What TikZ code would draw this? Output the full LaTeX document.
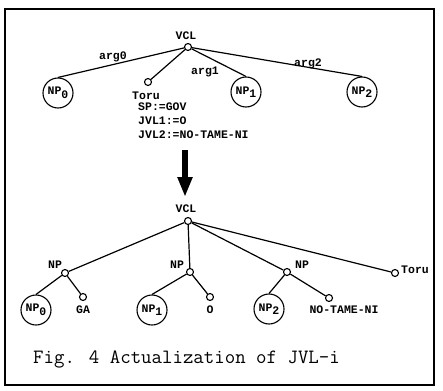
\documentclass[tikz,border=0pt]{standalone}
\usepackage{fontspec}
\newfontfamily\lblfont{Liberation Mono}
\usetikzlibrary{arrows.meta}
\tikzset{
  lbl/.style={font=\lblfont\bfseries\fontsize{11.5}{13}\selectfont, inner sep=0pt},
  sm/.style={circle, draw, line width=1.1pt, minimum size=7pt, inner sep=0pt},
  big/.style={circle, draw, line width=1.1pt, minimum size=30pt, inner sep=0pt, font=\lblfont\bfseries\fontsize{11.5}{13}\selectfont},
  edge/.style={line width=1.2pt},
}
\newcommand{\npsub}[1]{NP\raisebox{-3.5pt}{#1}}
\begin{document}
\begin{tikzpicture}[x=1pt,y=-1pt]
\useasboundingbox (0,0) rectangle (443,390);
\draw[line width=1.5pt] (5,9) rectangle (434,385);
% top tree
\node[sm] (vcl1) at (188,47) {};
\node[lbl] (vcl1l) at (186,36) {VCL};
\node[big] (np0a) at (58,93) {\npsub{0}};
\node[sm] (toru1) at (148,82) {};
\node[lbl] (toru1l) at (146,96) {Toru};
\node[big] (np1a) at (246,92) {\npsub{1}};
\node[big] (np2a) at (362,92) {\npsub{2}};
\draw[edge] (vcl1) -- (np0a.north);
\draw[edge] (vcl1) -- (toru1);
\draw[edge] (vcl1) -- (np1a.north);
\draw[edge] (vcl1) -- (np2a.north);
\node[lbl] (a0) at (113,57) {arg0};
\node[lbl] (a1) at (205,72) {arg1};
\node[lbl] (a2) at (308,64) {arg2};
\node[lbl, anchor=west] (sp) at (138,107) {SP:=GOV};
\node[lbl, anchor=west] (j1) at (138,121) {JVL1:=O};
\node[lbl, anchor=west] (j2) at (138,135) {JVL2:=NO-TAME-NI};
% arrow
\coordinate (as) at (185,150);
\coordinate (ae) at (185,197);
\draw[line width=6pt, -{Triangle[width=14pt,length=20pt]}] (as) -- (ae);
% bottom tree
\node[sm] (vcl2) at (188,221) {};
\node[lbl] (vcl2l) at (186,209) {VCL};
\node[sm] (npL) at (65,273) {};
\node[lbl] (npLl) at (55,265) {NP};
\node[sm] (npM) at (190,272) {};
\node[lbl] (npMl) at (177,265) {NP};
\node[sm] (npR) at (287,272) {};
\node[lbl] (npRl) at (302,265) {NP};
\node[sm] (toru2) at (395,273) {};
\node[lbl, anchor=west] (toru2l) at (401,270) {Toru};
\node[big] (np0b) at (36,310) {\npsub{0}};
\node[sm] (ga) at (83,297) {};
\node[lbl] (gal) at (83,310) {GA};
\node[big] (np1b) at (152,310) {\npsub{1}};
\node[sm] (o) at (210,297) {};
\node[lbl] (ol) at (210,310) {O};
\node[big] (np2b) at (269,309) {\npsub{2}};
\node[sm] (nt) at (329,298) {};
\node[lbl] (ntl) at (344,310) {NO-TAME-NI};
\draw[edge] (vcl2) -- (npL);
\draw[edge] (vcl2) -- (npM);
\draw[edge] (vcl2) -- (npR);
\draw[edge] (vcl2) -- (toru2);
\draw[edge] (npL) -- (np0b.north);
\draw[edge] (npL) -- (ga);
\draw[edge] (npM) -- (np1b.north);
\draw[edge] (npM) -- (o);
\draw[edge] (npR) -- (np2b.north);
\draw[edge] (npR) -- (nt);
% caption
\node[anchor=base west, inner sep=0pt, font=\ttfamily\fontsize{20.3}{24}\selectfont] (cap) at (33,363) {Fig. 4 Actualization of JVL-i};
\end{tikzpicture}
\end{document}
